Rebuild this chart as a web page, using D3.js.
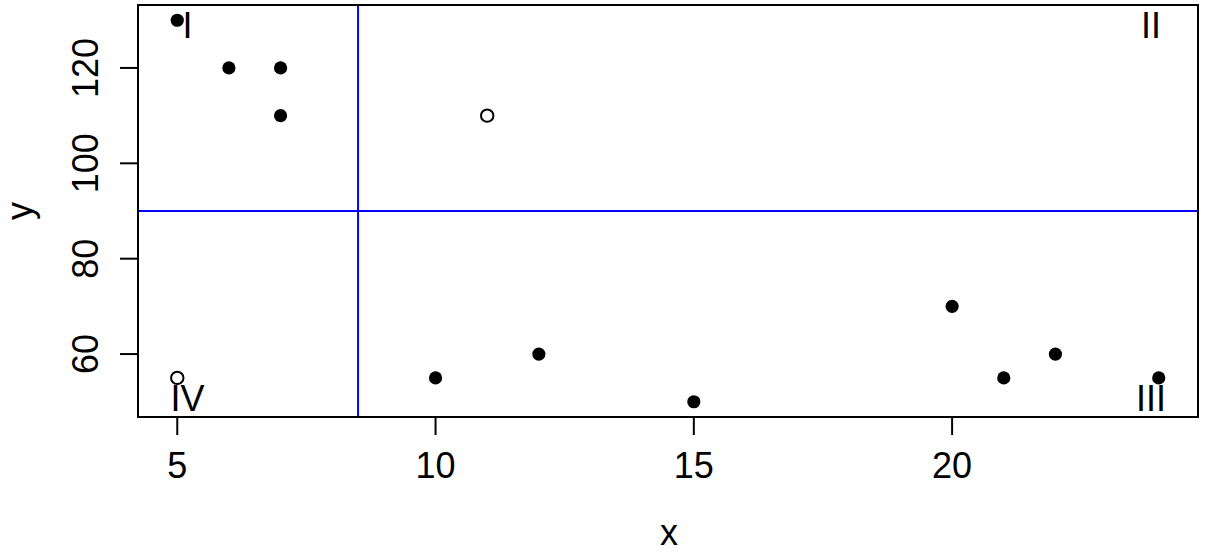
<!DOCTYPE html>
<html><head><meta charset="utf-8">
<script src="https://cdn.jsdelivr.net/npm/d3@7"></script>
<style>body{margin:0;background:#fff}svg{display:block}text{font-family:"Liberation Sans",Arial,sans-serif;fill:#000}</style>
</head><body><svg id="c" width="1210" height="553"></svg>
<script>
const xFilled = [5, 6, 7, 7, 10, 12, 15, 20, 21, 22, 24];
const yFilled = [130, 120, 120, 110, 55, 60, 50, 70, 55, 60, 55];
const xOpen = [11, 5];
const yOpen = [110, 55];
const quadLabels = ["I", "II", "III", "IV"];
const quadX = [5.2, 23.85, 23.85, 5.2];
const quadY = [129, 129, 50.7, 50.7];
const xTicks = [5, 10, 15, 20];
const yTicks = [60, 80, 100, 120];
const vLineX = 8.5;
const hLineY = 90;

const svg = d3.select("#c");
const L = 138, R = 1198, T = 5, B = 417;
const allX = xFilled.concat(xOpen), allY = yFilled.concat(yOpen);
const xr = d3.extent(allX), yr = d3.extent(allY);
const xpad = (xr[1] - xr[0]) * 0.04, ypad = (yr[1] - yr[0]) * 0.04;
const x = d3.scaleLinear().domain([xr[0] - xpad, xr[1] + xpad]).range([L, R]);
const y = d3.scaleLinear().domain([yr[0] - ypad, yr[1] + ypad]).range([B, T]);

// reference lines
svg.append("line").attr("x1", x(vLineX)).attr("x2", x(vLineX)).attr("y1", T).attr("y2", B)
  .attr("stroke", "#0000ff").attr("stroke-width", 2);
svg.append("line").attr("x1", L).attr("x2", R).attr("y1", y(hLineY)).attr("y2", y(hLineY))
  .attr("stroke", "#0000ff").attr("stroke-width", 2);

// box
svg.append("rect").attr("x", L).attr("y", T).attr("width", R - L).attr("height", B - T)
  .attr("fill", "none").attr("stroke", "#000").attr("stroke-width", 2);

// x axis
const xa = svg.append("g");
xa.selectAll("line").data(xTicks).join("line")
  .attr("x1", d => x(d)).attr("x2", d => x(d)).attr("y1", B).attr("y2", B + 18)
  .attr("stroke", "#000").attr("stroke-width", 2);
xa.selectAll("text").data(xTicks).join("text")
  .attr("x", d => x(d)).attr("y", 478).attr("text-anchor", "middle")
  .attr("font-size", 36).text(d => d);

// y axis
const ya = svg.append("g");
ya.selectAll("line").data(yTicks).join("line")
  .attr("x1", L - 18).attr("x2", L).attr("y1", d => y(d)).attr("y2", d => y(d))
  .attr("stroke", "#000").attr("stroke-width", 2);
ya.selectAll("text").data(yTicks).join("text")
  .attr("transform", d => `translate(98,${y(d)}) rotate(-90)`)
  .attr("text-anchor", "middle").attr("font-size", 36).text(d => d);

// axis titles
svg.append("text").attr("x", 669).attr("y", 545).attr("text-anchor", "middle")
  .attr("font-size", 36).text("x");
svg.append("text").attr("transform", `translate(32,${(T + B) / 2}) rotate(-90)`)
  .attr("text-anchor", "middle").attr("font-size", 36).text("y");

// points
svg.append("g").selectAll("circle").data(xFilled.map((d, i) => [d, yFilled[i]])).join("circle")
  .attr("cx", d => x(d[0])).attr("cy", d => y(d[1])).attr("r", 6.6).attr("fill", "#000");
svg.append("g").selectAll("circle").data(xOpen.map((d, i) => [d, yOpen[i]])).join("circle")
  .attr("cx", d => x(d[0])).attr("cy", d => y(d[1])).attr("r", 6.2)
  .attr("fill", "none").attr("stroke", "#000").attr("stroke-width", 2);

// quadrant labels
svg.append("g").selectAll("text").data(quadLabels).join("text")
  .attr("x", (d, i) => x(quadX[i])).attr("y", (d, i) => y(quadY[i]))
  .attr("dy", "0.358em").attr("text-anchor", "middle").attr("font-size", 36).text(d => d);
</script></body></html>
